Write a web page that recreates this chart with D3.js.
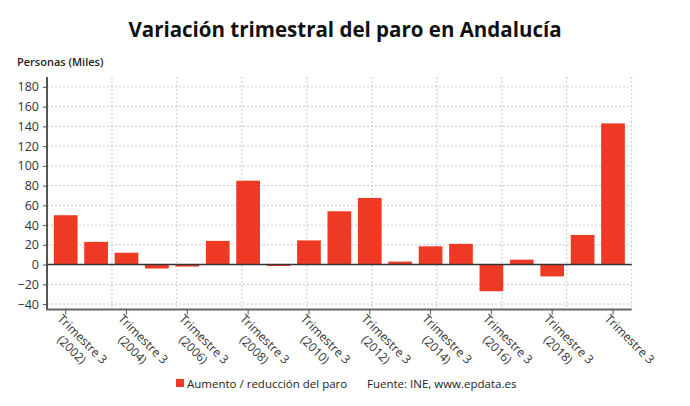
<!DOCTYPE html>
<html><head><meta charset="utf-8">
<script src="https://cdn.jsdelivr.net/npm/d3@7"></script>
<style>body{margin:0;background:#fff;}svg{display:block;font-family:"Open Sans",sans-serif;}</style>
</head><body><svg id="c" width="690" height="406"></svg>
<script>
const years = [2002,2003,2004,2005,2006,2007,2008,2009,2010,2011,2012,2013,2014,2015,2016,2017,2018,2019,2020];
const values = [50,23,12,-4,-2,24,85,-1.5,24.5,54,67.5,3,18.5,21,-27,5,-12,30,143];
const yTicks = [-40,-20,0,20,40,60,80,100,120,140,160,180];
const labelYears = [2002,2004,2006,2008,2010,2012,2014,2016,2018,2020];
const labelSecond = ["(2002)","(2004)","(2006)","(2008)","(2010)","(2012)","(2014)","(2016)","(2018)",""];

const svg = d3.select("#c");
const L = 47, R = 631.7, T = 77, B = 309.5;
const x = d3.scaleBand().domain(years).range([L, R]).paddingInner(0.22).paddingOuter(0.225);
const y = d3.scaleLinear().domain([-45.5, 190]).range([B, T]);

svg.append("text").attr("x", 345).attr("y", 37).attr("text-anchor","middle")
  .attr("font-size", 20.5).attr("font-weight", 700).attr("fill","#111")
  .text("Variación trimestral del paro en Andalucía");
svg.append("text").attr("x", 17).attr("y", 66).attr("font-size", 11).attr("font-weight", 600).attr("fill","#222")
  .text("Personas (Miles)");

// horizontal grid
svg.append("g").selectAll("line").data(yTicks).join("line")
  .attr("x1", L).attr("x2", R).attr("y1", d=>y(d)).attr("y2", d=>y(d))
  .attr("stroke","#c8c8d0").attr("stroke-width",1).attr("stroke-dasharray","2,2");
// vertical grid
const vg = d3.range(1,10).map(i => L + (R-L)*i/9);
svg.append("g").selectAll("line").data(vg).join("line")
  .attr("x1", d=>d).attr("x2", d=>d).attr("y1", T).attr("y2", B)
  .attr("stroke","#c8c8d0").attr("stroke-width",1).attr("stroke-dasharray","2,2");

// y axis
const ya = svg.append("g").attr("transform",`translate(${L},0)`)
  .call(d3.axisLeft(y).tickValues(yTicks).tickSize(4).tickPadding(4));
ya.select(".domain").remove();
ya.selectAll("line").attr("stroke","#555");
ya.selectAll("text").attr("font-size",12.5).attr("fill","#333").attr("font-family","Open Sans");
svg.append("line").attr("x1",L).attr("x2",L).attr("y1",T).attr("y2",B)
  .attr("stroke","#555").attr("stroke-width",2);

// bars
svg.append("g").selectAll("rect").data(values).join("rect")
  .attr("x", (d,i)=>x(years[i])).attr("width", x.bandwidth())
  .attr("y", d=>y(Math.max(0,d))).attr("height", d=>Math.abs(y(d)-y(0)))
  .attr("fill","#ee3a24");

// zero line
svg.append("line").attr("x1",L).attr("x2",R).attr("y1",y(0)).attr("y2",y(0))
  .attr("stroke","#333").attr("stroke-width",1.5);

// bottom axis
svg.append("line").attr("x1",L-1).attr("x2",R).attr("y1",B).attr("y2",B)
  .attr("stroke","#666").attr("stroke-width",2);
const xl = svg.append("g");
labelYears.forEach((yr,i)=>{
  const cx = x(yr) + x.bandwidth()/2;
  xl.append("line").attr("x1",cx).attr("x2",cx).attr("y1",B).attr("y2",B+5).attr("stroke","#555");
  const t = xl.append("text").attr("transform",`translate(${cx-3},${B+4}) rotate(45)`)
    .attr("font-size",12).attr("fill","#333").attr("text-anchor","middle");
  const t1 = t.append("tspan").attr("dy","0.7em").text("Trimestre 3");
  const w = t1.node().getComputedTextLength();
  t1.attr("x", w/2);
  if (labelSecond[i]) t.append("tspan").attr("x",w/2).attr("dy","1.25em").text(labelSecond[i]);
});

// legend
svg.append("rect").attr("x",176).attr("y",379).attr("width",8).attr("height",8).attr("fill","#ee3a24");
svg.append("text").attr("x",187).attr("y",388).attr("font-size",11.5).attr("fill","#222").text("Aumento / reducción del paro");
svg.append("text").attr("x",367).attr("y",388).attr("font-size",11.5).attr("fill","#222").text("Fuente: INE, www.epdata.es");
</script></body></html>
